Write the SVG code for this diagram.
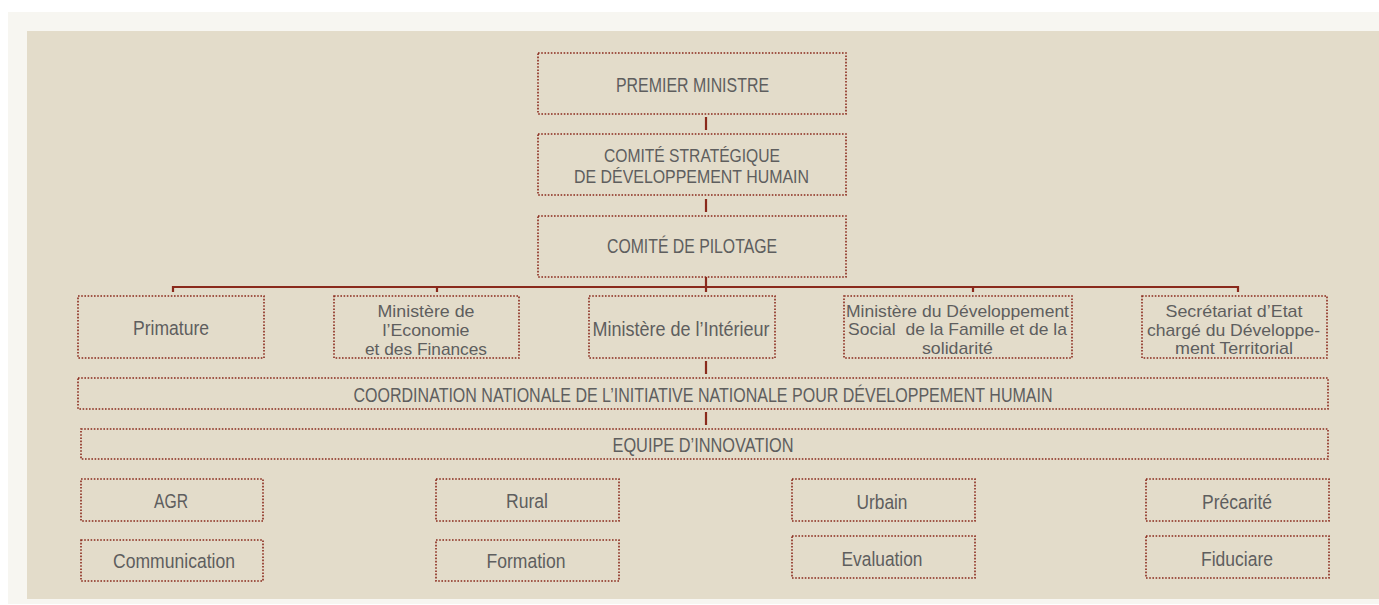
<svg xmlns="http://www.w3.org/2000/svg" width="1379" height="605" viewBox="0 0 1379 605">
<style>
.b{fill:none;stroke:#8a2a1c;stroke-width:1.6;stroke-dasharray:1.6 1.6}
.t{font-family:"Liberation Sans",Arial,sans-serif;font-size:20.5px;fill:#5e5e5e;text-anchor:middle}
.m{font-size:17px}
.c{stroke:#8a2a1c;stroke-width:2.2;fill:none}
</style>
<rect x="0" y="0" width="1379" height="605" fill="#ffffff"/>
<rect x="8" y="12" width="1371" height="592" fill="#f7f6f1"/>
<rect x="27" y="31" width="1352" height="568" fill="#e3dcca"/>
<g id="connectors">
<line class="c" x1="706" y1="117" x2="706" y2="130"/>
<line class="c" x1="706" y1="199" x2="706" y2="212"/>
<line class="c" x1="706" y1="277" x2="706" y2="287"/>
<path class="c" d="M173 292V287H1238V292M437 287V292M706 287V292M973 287V292"/>
<line class="c" x1="706" y1="361" x2="706" y2="374"/>
<line class="c" x1="706" y1="412" x2="706" y2="425"/>
</g>
<g id="premier"><rect class="b" x="538" y="53" width="308" height="61"/><text class="t" x="692.5" y="92" textLength="153" lengthAdjust="spacingAndGlyphs">PREMIER MINISTRE</text></g>
<g id="strategique"><rect class="b" x="538" y="134" width="308" height="61"/><text class="t" x="692" y="162" textLength="176" lengthAdjust="spacingAndGlyphs" style="font-size:18.5px">COMITÉ STRATÉGIQUE</text><text class="t" x="691.5" y="183" textLength="235" lengthAdjust="spacingAndGlyphs" style="font-size:18.5px">DE DÉVELOPPEMENT HUMAIN</text></g>
<g id="pilotage"><rect class="b" x="538" y="216" width="308" height="61"/><text class="t" x="692" y="253" textLength="170" lengthAdjust="spacingAndGlyphs">COMITÉ DE PILOTAGE</text></g>
<g id="primature"><rect class="b" x="78" y="296" width="186" height="62"/><text class="t" x="171" y="335" textLength="76" lengthAdjust="spacingAndGlyphs">Primature</text></g>
<g id="economie"><rect class="b" x="334" y="296" width="185" height="62"/><text class="t m" x="426" y="316.5" textLength="97" lengthAdjust="spacingAndGlyphs">Ministère de</text><text class="t m" x="426" y="335.5" textLength="87" lengthAdjust="spacingAndGlyphs">l’Economie</text><text class="t m" x="426" y="354.5" textLength="122" lengthAdjust="spacingAndGlyphs">et des Finances</text></g>
<g id="interieur"><rect class="b" x="589" y="296" width="186" height="62"/><text class="t" x="681" y="336" textLength="177" lengthAdjust="spacingAndGlyphs">Ministère de l’Intérieur</text></g>
<g id="social"><rect class="b" x="844" y="296" width="228" height="62"/><text class="t m" x="957.5" y="316.5" textLength="223" lengthAdjust="spacingAndGlyphs">Ministère du Développement</text><text class="t m" x="957.5" y="335" textLength="219" lengthAdjust="spacingAndGlyphs" xml:space="preserve" style="white-space:pre">Social  de la Famille et de la</text><text class="t m" x="957.5" y="353.5" textLength="71" lengthAdjust="spacingAndGlyphs">solidarité</text></g>
<g id="secretariat"><rect class="b" x="1142" y="296" width="185" height="62"/><text class="t m" x="1234" y="316.5" textLength="137" lengthAdjust="spacingAndGlyphs">Secrétariat d’Etat</text><text class="t m" x="1233.5" y="335.5" textLength="173" lengthAdjust="spacingAndGlyphs">chargé du Développe-</text><text class="t m" x="1234" y="354" textLength="118" lengthAdjust="spacingAndGlyphs">ment Territorial</text></g>
<g id="coordination"><rect class="b" x="78" y="378" width="1250" height="31"/><text class="t" x="703" y="402" textLength="699" lengthAdjust="spacingAndGlyphs">COORDINATION NATIONALE DE L’INITIATIVE NATIONALE POUR DÉVELOPPEMENT HUMAIN</text></g>
<g id="equipe"><rect class="b" x="81" y="429" width="1247" height="30"/><text class="t" x="703" y="452" textLength="181" lengthAdjust="spacingAndGlyphs">EQUIPE D’INNOVATION</text></g>
<g id="agr"><rect class="b" x="81" y="479" width="182" height="42"/><text class="t" x="171" y="508" textLength="34" lengthAdjust="spacingAndGlyphs">AGR</text></g>
<g id="rural"><rect class="b" x="436" y="479" width="183" height="42"/><text class="t" x="527" y="508" textLength="42" lengthAdjust="spacingAndGlyphs">Rural</text></g>
<g id="urbain"><rect class="b" x="792" y="479" width="183" height="42"/><text class="t" x="882" y="509" textLength="51" lengthAdjust="spacingAndGlyphs">Urbain</text></g>
<g id="precarite"><rect class="b" x="1146" y="479" width="183" height="42"/><text class="t" x="1237" y="509" textLength="70" lengthAdjust="spacingAndGlyphs">Précarité</text></g>
<g id="communication"><rect class="b" x="81" y="540" width="182" height="41"/><text class="t" x="174" y="568" textLength="122" lengthAdjust="spacingAndGlyphs">Communication</text></g>
<g id="formation"><rect class="b" x="436" y="540" width="183" height="41"/><text class="t" x="526" y="568" textLength="79" lengthAdjust="spacingAndGlyphs">Formation</text></g>
<g id="evaluation"><rect class="b" x="792" y="536" width="183" height="42"/><text class="t" x="882" y="566" textLength="81" lengthAdjust="spacingAndGlyphs">Evaluation</text></g>
<g id="fiduciare"><rect class="b" x="1146" y="536" width="183" height="42"/><text class="t" x="1237" y="566" textLength="72" lengthAdjust="spacingAndGlyphs">Fiduciare</text></g>
</svg>
